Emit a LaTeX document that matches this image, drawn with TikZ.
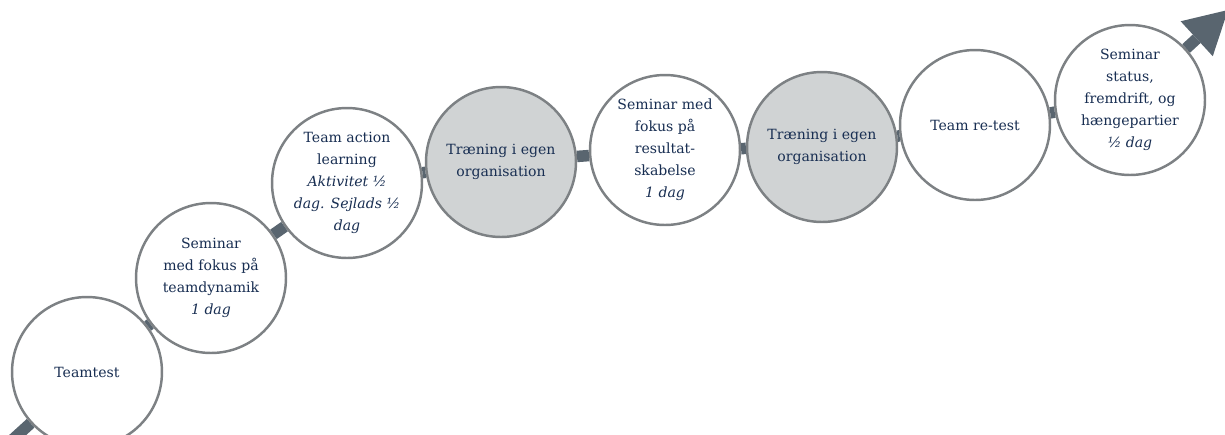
\documentclass[tikz,border=0pt]{standalone}
\usepackage{fontspec}
\setmainfont{DejaVu Serif}
\usepackage{tikz}
\usetikzlibrary{arrows.meta}
\definecolor{lineslate}{RGB}{89,101,111}
\definecolor{ringgray}{RGB}{125,129,132}
\definecolor{stepfill}{RGB}{208,211,212}
\definecolor{textnavy}{RGB}{24,46,82}
\tikzset{
	stage/.style={circle, draw=ringgray, line width=1.4pt, fill=white, minimum size=3cm, inner sep=0pt, align=center, text=textnavy, font=\fontsize{8}{12.5}\selectfont},
	stagegray/.style={stage, fill=stepfill},
	track/.style={draw, color=lineslate, line width=0.23cm},
}

\begin{document}
\begin{tikzpicture}[x=0.02cm, y=-0.02cm]
	\useasboundingbox (0,0) rectangle (1225,434);
	\coordinate (start) at (10,442);
	\coordinate (tip) at (1228,10);
	\node[stage] (t1) at (87,372) {Teamtest};
	\node[stage] (t2) at (211,278) {Seminar\\med fokus på\\teamdynamik\\\textit{1 dag}};
	\node[stage] (t3) at (347,183) {Team action\\learning\\\textit{Aktivitet ½}\\\textit{dag. Sejlads ½}\\\textit{dag}};
	\node[stagegray] (t4) at (501,162) {Træning i egen\\organisation};
	\node[stage] (t5) at (665,150) {Seminar med\\fokus på\\resultat-\\skabelse\\\textit{1 dag}};
	\node[stagegray] (t6) at (822,147) {Træning i egen\\organisation};
	\node[stage] (t7) at (975,125) {Team re-test};
	\node[stage] (t8) at (1130,100) {Seminar\\status,\\fremdrift, og\\hængepartier\\\textit{½ dag}};
	\path[track]
	(start) edge (t1)
	(t1) edge (t2)
	(t2) edge (t3)
	(t3) edge (t4)
	(t4) edge (t5)
	(t5) edge (t6)
	(t6) edge (t7)
	(t7) edge (t8)
	;
	\path[track, -{Triangle[length=0.85cm, width=0.95cm, line width=0pt]}]
	(t8) edge (tip)
	;
\end{tikzpicture}
\end{document}
